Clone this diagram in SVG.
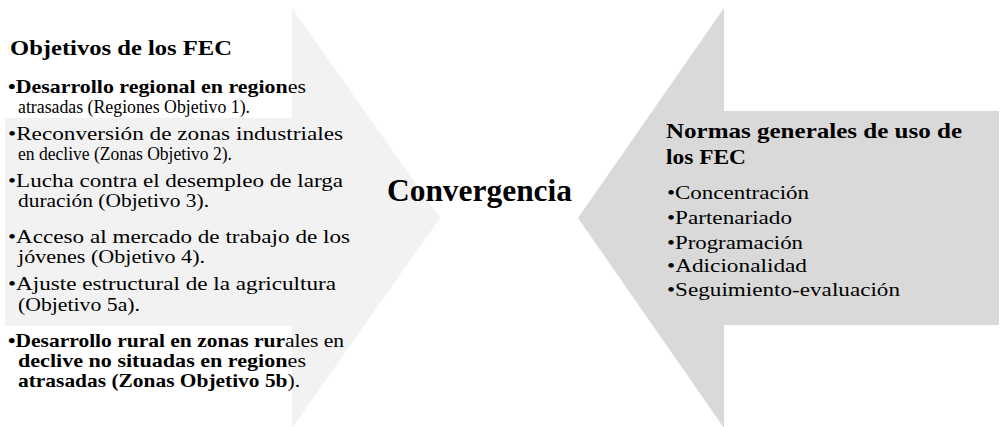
<svg xmlns="http://www.w3.org/2000/svg" width="1002" height="427" viewBox="0 0 1002 427">
<style>
text{font-family:"Liberation Serif","Times New Roman",serif;fill:#000;}
.t{font-size:21px;font-weight:bold;}
.b{font-size:19.5px;}
.c{font-size:31px;font-weight:bold;}
</style>
<rect width="1002" height="427" fill="#ffffff"/>
<g id="left-arrow">
<polygon points="5,118 292,118 292,8 440,218 292,428 292,326 5,326" fill="#f2f2f2"/>
<text class="t" x="10" y="55" textLength="222" lengthAdjust="spacingAndGlyphs">Objetivos de los FEC</text>
<text class="b" x="8" y="93" textLength="298" lengthAdjust="spacingAndGlyphs"><tspan font-weight="bold">•Desarrollo regional en region</tspan>es</text>
<text class="b" x="18" y="113" textLength="232" lengthAdjust="spacingAndGlyphs">atrasadas (Regiones Objetivo 1).</text>
<text class="b" x="8" y="140" textLength="335" lengthAdjust="spacingAndGlyphs">•Reconversión de zonas industriales</text>
<text class="b" x="18" y="160" textLength="214" lengthAdjust="spacingAndGlyphs">en declive (Zonas Objetivo 2).</text>
<text class="b" x="8" y="187" textLength="335" lengthAdjust="spacingAndGlyphs">•Lucha contra el desempleo de larga</text>
<text class="b" x="18" y="207" textLength="191" lengthAdjust="spacingAndGlyphs">duración (Objetivo 3).</text>
<text class="b" x="8" y="243" textLength="342" lengthAdjust="spacingAndGlyphs">•Acceso al mercado de trabajo de los</text>
<text class="b" x="18" y="263" textLength="187" lengthAdjust="spacingAndGlyphs">jóvenes (Objetivo 4).</text>
<text class="b" x="8" y="290" textLength="328" lengthAdjust="spacingAndGlyphs">•Ajuste estructural de la agricultura</text>
<text class="b" x="18" y="311" textLength="122" lengthAdjust="spacingAndGlyphs">(Objetivo 5a).</text>
<text class="b" x="8" y="347" textLength="336" lengthAdjust="spacingAndGlyphs"><tspan font-weight="bold">•Desarrollo rural en zonas rur</tspan>ales en</text>
<text class="b" x="18" y="367" textLength="288" lengthAdjust="spacingAndGlyphs"><tspan font-weight="bold">declive no situadas en region</tspan>es</text>
<text class="b" x="18" y="387" textLength="282" lengthAdjust="spacingAndGlyphs"><tspan font-weight="bold">atrasadas (Zonas Objetivo 5b</tspan>).</text>
</g>
<g id="right-arrow">
<polygon points="724,8 724,111 999,111 999,325 724,325 724,428 578,218" fill="#d9d9d9"/>
<text class="t" x="666" y="138" textLength="296" lengthAdjust="spacingAndGlyphs">Normas generales de uso de</text>
<text class="t" x="666" y="164" textLength="80" lengthAdjust="spacingAndGlyphs">los FEC</text>
<text class="b" x="667" y="199" textLength="142" lengthAdjust="spacingAndGlyphs">•Concentración</text>
<text class="b" x="667" y="224" textLength="125" lengthAdjust="spacingAndGlyphs">•Partenariado</text>
<text class="b" x="667" y="249" textLength="136" lengthAdjust="spacingAndGlyphs">•Programación</text>
<text class="b" x="667" y="272" textLength="140" lengthAdjust="spacingAndGlyphs">•Adicionalidad</text>
<text class="b" x="667" y="296" textLength="233" lengthAdjust="spacingAndGlyphs">•Seguimiento-evaluación</text>
</g>
<g id="center">
<text class="c" x="387" y="201" textLength="185" lengthAdjust="spacingAndGlyphs">Convergencia</text>
</g>
<g id="connectors"></g>
</svg>
